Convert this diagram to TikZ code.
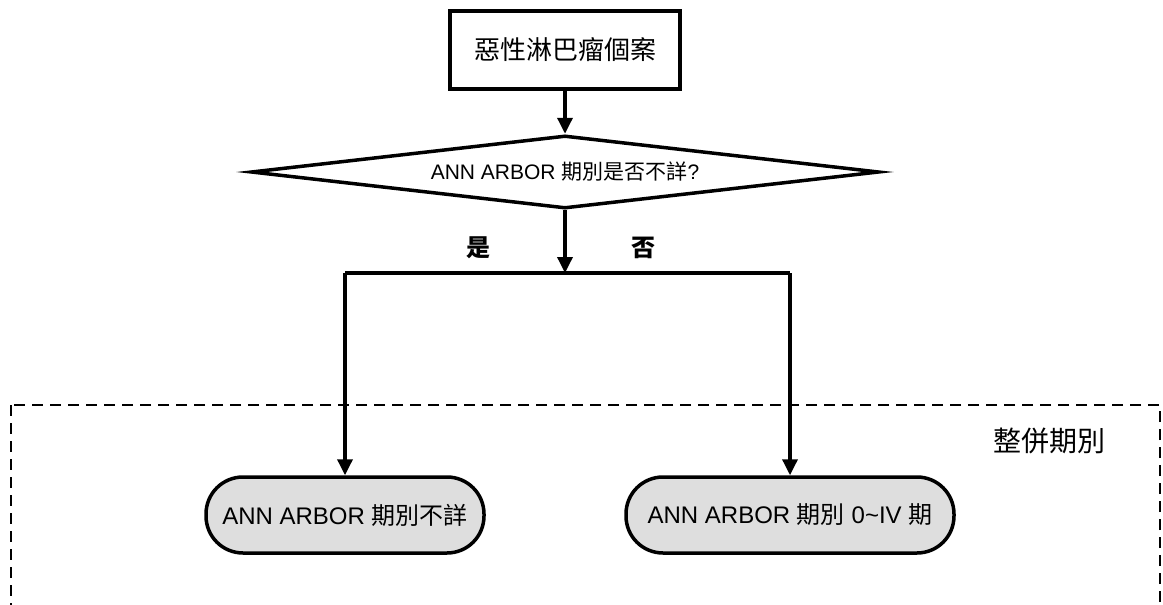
\documentclass[tikz,border=0pt]{standalone}
\usepackage{fontspec}
\setmainfont{Liberation Sans}
\newfontfamily\cjk{Noto Sans CJK TC}
\usetikzlibrary{shapes.geometric,arrows.meta}

\begin{document}
\begin{tikzpicture}[x=1pt, y=-1pt, line width=3.5pt,
    every node/.style={inner sep=0pt},
    box/.style={rectangle, draw, minimum width=230pt, minimum height=78pt, font=\fontsize{26}{30}\selectfont\cjk},
    test/.style={diamond, draw, aspect=8.6, minimum width=628pt, minimum height=73pt, font=\fontsize{21}{25}\selectfont},
    term/.style={rectangle, draw, rounded corners=37pt, fill=black!13, minimum height=76pt, font=\fontsize{24}{28}\selectfont},
    answer/.style={font=\fontsize{24}{28}\selectfont\cjk\bfseries},
    frame/.style={dash pattern=on 11pt off 7pt, line width=2.8pt},
    flow/.style={-{Triangle[length=16pt, width=15pt]}}]
  \useasboundingbox (0,0) rectangle (1163,605);
  \draw[frame] (11,405) rectangle (1160,640);
  \node (1) at (565,50) [box] {惡性淋巴瘤個案};
  \node (2) at (565,172) [test] {ANN ARBOR {\cjk 期別是否不詳}?};
  \node (3) at (345,515) [term, minimum width=278pt] {ANN ARBOR {\cjk 期別不詳}};
  \node (4) at (790,515) [term, minimum width=328pt] {ANN ARBOR {\cjk 期別} 0\textasciitilde IV {\cjk 期}};
  \node (5) at (478,248) [answer] {是};
  \node (6) at (643,248) [answer] {否};
  \node (10) at (1049,441) [font=\fontsize{28}{32}\selectfont\cjk] {整併期別};
  \coordinate (7) at (565,273);
  \coordinate (8) at (345,273);
  \coordinate (9) at (790,273);
  \draw (8) -- (9);
  \foreach \source/\dest in {1/2, 2/7, 8/3, 9/4}
    \draw[flow] (\source) -- (\dest);
\end{tikzpicture}
\end{document}
